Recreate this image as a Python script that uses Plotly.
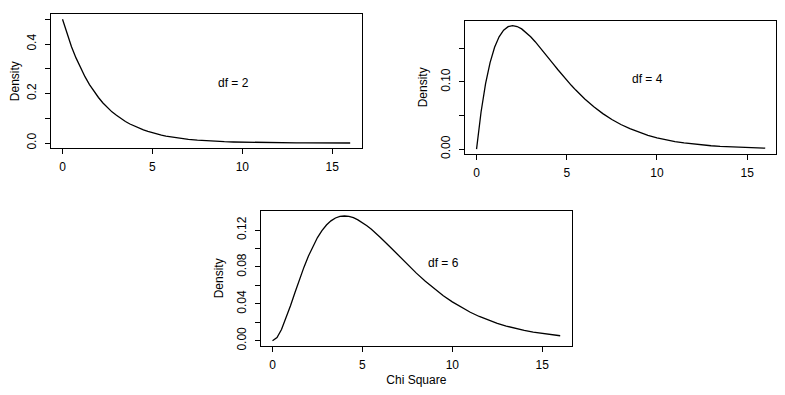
import plotly.graph_objects as go

# ---- data ----
x_df2 = [0, 0.25, 0.5, 0.75, 1, 1.25, 1.5, 1.75, 2, 2.25, 2.5, 2.75, 3, 3.25, 3.5, 3.75, 4,
         4.25, 4.5, 4.75, 5, 5.25, 5.5, 5.75, 6, 6.5, 7, 7.5, 8, 8.5, 9, 9.5, 10, 10.5, 11,
         11.5, 12, 12.5, 13, 13.5, 14, 14.5, 15, 15.5, 16]
y_df2 = [0.500, 0.441, 0.389, 0.344, 0.303, 0.268, 0.236, 0.208, 0.184, 0.162, 0.143, 0.126,
         0.112, 0.098, 0.087, 0.077, 0.068, 0.060, 0.053, 0.047, 0.041, 0.036, 0.032, 0.028,
         0.025, 0.019, 0.015, 0.012, 0.009, 0.007, 0.0056, 0.0043, 0.0034, 0.0026, 0.0020,
         0.0016, 0.0012, 0.0010, 0.0008, 0.0006, 0.0005, 0.0004, 0.0003, 0.0002, 0.0002]

x_df4 = [0, 0.1, 0.25, 0.5, 0.75, 1, 1.25, 1.5, 1.75, 2, 2.25, 2.5, 2.75, 3, 3.25, 3.5, 3.75, 4,
         4.25, 4.5, 4.75, 5, 5.25, 5.5, 5.75, 6, 6.5, 7, 7.5, 8, 8.5, 9, 9.5, 10, 10.5, 11,
         11.5, 12, 12.5, 13, 13.5, 14, 14.5, 15, 15.5, 16]
y_df4 = [0.0, 0.0238, 0.0552, 0.0974, 0.1289, 0.1516, 0.1673, 0.1771, 0.1824, 0.1839, 0.1826,
         0.1791, 0.1738, 0.1673, 0.1600, 0.1521, 0.1438, 0.1353, 0.1269, 0.1186, 0.1104, 0.1026,
         0.0950, 0.0879, 0.0811, 0.0747, 0.0631, 0.0528, 0.0441, 0.0366, 0.0304, 0.0250, 0.0205,
         0.0168, 0.0138, 0.0112, 0.0091, 0.0074, 0.0060, 0.0049, 0.0039, 0.0032, 0.0026, 0.0021,
         0.0017, 0.0013]

x_df6 = [0, 0.25, 0.5, 0.75, 1, 1.25, 1.5, 1.75, 2, 2.25, 2.5, 2.75, 3, 3.25, 3.5, 3.75, 4,
         4.25, 4.5, 4.75, 5, 5.25, 5.5, 5.75, 6, 6.5, 7, 7.5, 8, 8.5, 9, 9.5, 10, 10.5, 11,
         11.5, 12, 12.5, 13, 13.5, 14, 14.5, 15, 15.5, 16]
y_df6 = [0.0, 0.0035, 0.0122, 0.0242, 0.0379, 0.0523, 0.0664, 0.0798, 0.0920, 0.1027, 0.1119,
         0.1195, 0.1255, 0.1300, 0.1331, 0.1348, 0.1353, 0.1348, 0.1334, 0.1311, 0.1283, 0.1247,
         0.1208, 0.1165, 0.1120, 0.1025, 0.0925, 0.0826, 0.0733, 0.0646, 0.0562, 0.0488, 0.0421,
         0.0362, 0.0309, 0.0263, 0.0223, 0.0188, 0.0159, 0.0133, 0.0112, 0.0093, 0.0078, 0.0065,
         0.0054]

labels = ["df = 2", "df = 4", "df = 6"]
label_pos = [(9.5, 0.242), (9.5, 0.104), (9.5, 0.0845)]

x_ticks = [0, 5, 10, 15]
y1_ticks = [0.0, 0.1, 0.2, 0.3, 0.4, 0.5]
y1_text = ["0.0", "", "0.2", "", "0.4", ""]
y2_ticks = [0.00, 0.05, 0.10, 0.15]
y2_text = ["0.00", "", "0.10", ""]
y3_ticks = [0.00, 0.02, 0.04, 0.06, 0.08, 0.10, 0.12]
y3_text = ["0.00", "", "0.04", "", "0.08", "", "0.12"]

# page body has an 8px margin; figure sized so the page does not overflow the window
OFF = 8
W, H = 785 - 2 * OFF, 395 - 2 * OFF
FONT = "Liberation Sans, Arial, Helvetica, sans-serif"

def xd(l, r):
    return [(l - OFF) / W, (r - OFF) / W]

def yd(t, b):
    return [1 - (b - OFF) / H, 1 - (t - OFF) / H]

fig = go.Figure()
series = [(x_df2, y_df2), (x_df4, y_df4), (x_df6, y_df6)]
for i, (xs, ys) in enumerate(series):
    sfx = "" if i == 0 else str(i + 1)
    fig.add_trace(go.Scatter(x=xs, y=ys, mode="lines",
                             line=dict(color="black", width=1.3),
                             xaxis="x" + sfx, yaxis="y" + sfx, showlegend=False,
                             hoverinfo="skip"))
    fig.add_annotation(x=label_pos[i][0], y=label_pos[i][1], text=labels[i],
                       xref="x" + sfx, yref="y" + sfx, showarrow=False,
                       font=dict(size=12, color="black", family=FONT))

ax_common = dict(showline=True, linecolor="black", linewidth=1, mirror=True,
                 ticks="outside", ticklen=5, tickcolor="black", tickwidth=1,
                 showgrid=False, zeroline=False, automargin=False,
                 tickfont=dict(size=12, color="black", family=FONT))

yranges = [[-0.02, 0.52], [-0.00736, 0.1913], [-0.0054, 0.1407]]
doms_x = [xd(51, 361.7), xd(465, 775.5), xd(261, 571.7)]
doms_y = [yd(14.3, 148), yd(20.7, 154), yd(211, 345.7)]
yt = [(y1_ticks, y1_text), (y2_ticks, y2_text), (y3_ticks, y3_text)]
xranges = [[-0.64, 16.64], [-0.64, 16.57], [-0.64, 16.64]]

layout = dict(width=W, height=H, margin=dict(l=0, r=0, t=0, b=0),
              plot_bgcolor="white", paper_bgcolor="white",
              font=dict(family=FONT, size=12, color="black"))
for i in range(3):
    sfx = "" if i == 0 else str(i + 1)
    layout["xaxis" + sfx] = dict(ax_common, domain=doms_x[i], range=xranges[i],
                                 tickvals=x_ticks, anchor="y" + sfx, ticklabelstandoff=3)
    layout["yaxis" + sfx] = dict(ax_common, domain=doms_y[i], range=yranges[i],
                                 tickvals=yt[i][0], ticktext=yt[i][1], tickangle=-90,
                                 anchor="x" + sfx, ticklabelstandoff=4,
                                 title=dict(text="Density", standoff=8,
                                            font=dict(size=12, color="black", family=FONT)))
layout["xaxis3"]["title"] = dict(text="Chi Square", standoff=10,
                                 font=dict(size=12, color="black", family=FONT))
fig.update_layout(**layout)

fig.write_html("out.html")
